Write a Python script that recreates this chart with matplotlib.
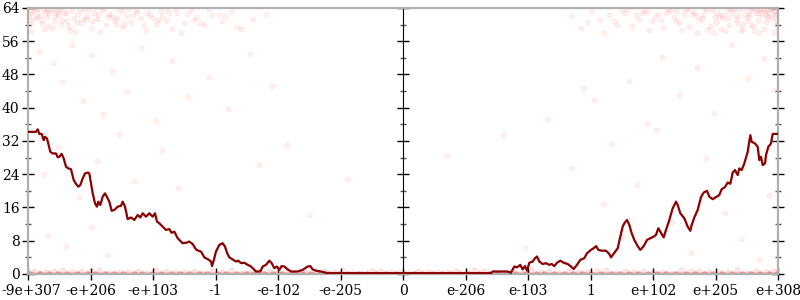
import matplotlib
matplotlib.use('Agg')
import matplotlib.pyplot as plt
import matplotlib.transforms as mtransforms

# x positions are in ordinal units: tick k sits at x = k (-6 .. 6)
tick_pos = [-6, -5, -4, -3, -2, -1, 0, 1, 2, 3, 4, 5, 6]
tick_labels = ['-9e+307', '-e+206', '-e+103', '-1', '-e-102', '-e-205', '0',
               'e-206', 'e-103', '1', 'e+102', 'e+205', 'e+308']

# average error line (bits)
line_x = [-6.0, -5.872, -5.845, -5.819, -5.781, -5.749, -5.728, -5.696, -5.643, -5.605,
          -5.552, -5.525, -5.499, -5.461, -5.429, -5.392, -5.355, -5.312, -5.269, -5.232,
          -5.195, -5.163, -5.125, -5.088, -5.045, -5.019, -4.992, -4.965, -4.928, -4.896,
          -4.875, -4.843, -4.805, -4.768, -4.736, -4.699, -4.661, -4.619, -4.565, -4.512,
          -4.485, -4.448, -4.405, -4.352, -4.299, -4.245, -4.203, -4.165, -4.112, -4.059,
          -4.005, -3.968, -3.936, -3.899, -3.845, -3.792, -3.739, -3.701, -3.659, -3.605,
          -3.525, -3.472, -3.419, -3.365, -3.312, -3.259, -3.232, -3.179, -3.115, -3.072,
          -3.056, -3.029, -2.992, -2.939, -2.885, -2.848, -2.816, -2.779, -2.725, -2.672,
          -2.635, -2.592, -2.539, -2.485, -2.432, -2.352, -2.283, -2.245, -2.192, -2.139,
          -2.101, -2.059, -2.016, -1.979, -1.941, -1.899, -1.845, -1.792, -1.685, -1.605,
          -1.525, -1.483, -1.445, -1.392, -1.312, -1.205, 1.408, 1.435, 1.675, 1.728,
          1.781, 1.824, 1.877, 1.915, 1.952, 1.984, 2.021, 2.075, 2.112, 2.144,
          2.181, 2.235, 2.288, 2.341, 2.379, 2.421, 2.464, 2.517, 2.571, 2.635,
          2.688, 2.731, 2.784, 2.837, 2.901, 2.944, 3.008, 3.051, 3.088, 3.125,
          3.179, 3.248, 3.301, 3.328, 3.381, 3.435, 3.477, 3.515, 3.541, 3.584,
          3.621, 3.659, 3.701, 3.755, 3.797, 3.851, 3.904, 3.957, 4.011, 4.048,
          4.085, 4.117, 4.171, 4.208, 4.261, 4.315, 4.368, 4.395, 4.437, 4.501,
          4.555, 4.597, 4.619, 4.661, 4.715, 4.768, 4.811, 4.864, 4.901, 4.955,
          5.008, 5.061, 5.099, 5.152, 5.195, 5.237, 5.275, 5.312, 5.355, 5.381,
          5.419, 5.461, 5.515, 5.557, 5.579, 5.632, 5.675, 5.701, 5.728, 5.755,
          5.792, 5.808, 5.845, 5.888, 5.915, 6.0]
line_y = [34.2, 34.2, 34.8, 33.7, 33.7, 32.2, 33.0, 32.6, 29.4, 29.0,
          29.0, 28.1, 28.2, 28.9, 27.8, 25.8, 25.4, 25.2, 22.6, 21.7,
          21.0, 21.4, 23.0, 24.2, 24.4, 24.2, 21.8, 19.4, 17.0, 16.2,
          17.4, 16.6, 18.6, 19.4, 18.5, 17.4, 15.2, 15.4, 16.2, 16.4,
          17.4, 16.2, 13.2, 13.6, 13.0, 14.2, 13.6, 14.6, 13.8, 14.6,
          13.8, 14.6, 12.6, 12.2, 11.4, 10.6, 10.8, 9.9, 10.2, 8.6,
          7.4, 7.5, 7.8, 7.2, 5.9, 5.5, 5.4, 4.0, 3.5, 3.0,
          1.9, 3.2, 5.4, 7.0, 7.4, 6.6, 5.1, 4.0, 3.5, 3.0,
          3.2, 2.6, 2.7, 2.2, 1.8, 0.6, 0.6, 1.8, 2.2, 3.2,
          2.6, 1.4, 1.8, 1.0, 1.9, 1.8, 1.1, 0.6, 0.6, 1.0,
          1.8, 1.9, 1.1, 0.8, 0.6, 0.2, 0.2, 0.6, 0.6, 0.3,
          1.8, 1.6, 2.2, 1.1, 1.9, 0.8, 2.7, 3.0, 3.8, 4.2,
          3.0, 2.4, 2.6, 2.2, 2.4, 1.9, 2.7, 3.2, 2.7, 2.4,
          1.8, 1.2, 2.2, 3.4, 3.8, 5.0, 5.8, 6.2, 6.7, 5.8,
          5.6, 5.6, 4.8, 4.0, 5.1, 6.2, 9.0, 11.4, 12.2, 13.0,
          11.8, 9.8, 8.2, 6.7, 5.8, 6.7, 8.2, 8.6, 9.0, 9.4,
          11.0, 10.2, 8.8, 10.6, 13.0, 15.8, 17.4, 16.6, 14.6, 13.4,
          11.4, 10.4, 11.8, 13.6, 15.4, 18.5, 19.6, 20.0, 18.6, 18.0,
          18.5, 19.0, 20.4, 20.9, 22.0, 21.7, 24.4, 25.0, 23.8, 25.4,
          25.0, 26.6, 29.4, 33.4, 31.8, 31.4, 30.6, 27.4, 28.2, 26.2,
          26.6, 28.6, 30.6, 31.4, 33.7, 33.7]

# sampled points: dense cluster near the top, left side
top_left_x = [-5.98, -5.95, -5.9, -5.88, -5.85, -5.8, -5.78, -5.72, -5.7, -5.66,
              -5.6, -5.58, -5.52, -5.5, -5.45, -5.4, -5.36, -5.3, -5.27, -5.2,
              -5.15, -5.1, -5.05, -5.0, -4.95, -4.9, -4.82, -4.75, -4.7, -4.62,
              -4.55, -4.5, -4.42, -4.35, -4.28, -4.2, -4.12, -4.05, -3.95, -3.88,
              -3.8, -3.7, -3.62, -3.5, -3.4, -3.3, -3.18, -3.05, -2.9, -2.75,
              -2.6, -2.4, -2.2, -5.93, -5.75, -5.62, -5.42, -5.22, -5.02, -4.85,
              -4.66, -4.46, -4.25, -4.0, -3.75, -3.55, -3.25, -2.95, -2.65, -5.97,
              -5.83, -5.68, -5.55, -5.33, -5.12, -4.92, -4.72, -4.38, -4.15, -3.85,
              -5.96, -5.86, -5.74, -5.64, -5.47, -5.25, -4.98, -4.58, -3.65, -3.1,
              -5.99, -5.91, -5.79, -5.69, -5.57, -5.48, -5.38, -5.17, -5.07, -4.88,
              -4.78, -4.6, -4.48, -4.32, -4.1, -3.92, -3.78, -3.45, -3.35, -2.85]
top_left_y = [63.6, 62.8, 63.2, 61.5, 63.7, 62.4, 60.3, 63.1, 61.9, 62.7,
              63.4, 60.8, 62.2, 63.5, 61.2, 62.9, 59.6, 63.3, 61.7, 62.5,
              60.4, 63.6, 62.0, 59.1, 62.8, 61.3, 63.2, 60.0, 62.6, 61.0,
              63.4, 59.4, 62.1, 60.7, 63.0, 61.6, 58.6, 62.4, 60.2, 63.3,
              61.1, 59.0, 62.7, 60.5, 63.5, 61.8, 59.8, 62.3, 60.9, 63.1,
              58.9, 61.4, 62.6, 61.0, 63.8, 59.2, 62.9, 60.6, 63.7, 58.3,
              62.0, 60.1, 63.6, 61.5, 62.9, 58.0, 60.3, 62.2, 59.5, 60.2,
              63.9, 59.7, 63.0, 58.7, 61.4, 63.9, 61.9, 63.8, 60.0, 62.1,
              58.5, 62.0, 58.9, 63.9, 60.1, 58.2, 60.9, 61.5, 63.9, 63.7,
              62.1, 63.9, 61.2, 63.5, 62.1, 63.8, 60.9, 63.8, 61.4, 62.2,
              63.9, 60.2, 63.2, 62.4, 62.9, 61.2, 63.7, 62.5, 61.0, 62.0]

# dense cluster near the top, right side
top_right_x = [5.99, 5.96, 5.93, 5.9, 5.86, 5.82, 5.8, 5.75, 5.71, 5.68,
               5.64, 5.6, 5.55, 5.52, 5.47, 5.42, 5.38, 5.33, 5.28, 5.22,
               5.18, 5.12, 5.06, 5.0, 4.94, 4.88, 4.8, 4.74, 4.66, 4.58,
               4.5, 4.42, 4.33, 4.25, 4.16, 4.08, 3.98, 3.9, 3.78, 3.66,
               3.55, 3.42, 3.3, 3.15, 3.0, 2.85, 2.7, 5.97, 5.88, 5.78,
               5.66, 5.57, 5.45, 5.35, 5.25, 5.15, 5.03, 4.91, 4.78, 4.63,
               4.47, 4.3, 4.12, 3.94, 3.72, 3.5, 3.22, 2.95, 5.94, 5.84,
               5.73, 5.62, 5.5, 5.4, 5.3, 5.09, 4.85, 4.55, 4.2, 3.85,
               5.98, 5.91, 5.79, 5.69, 5.59, 5.44, 5.2, 4.97, 4.7, 4.38,
               5.95, 5.89, 5.83, 5.77, 5.7, 5.61, 5.53, 5.36, 5.23, 5.1,
               4.99, 4.83, 4.68, 4.52, 4.36, 4.22, 4.03, 3.82, 3.6, 3.38]
top_right_y = [63.7, 62.5, 63.3, 61.6, 62.9, 63.5, 60.7, 62.2, 63.8, 61.1,
               62.7, 59.6, 63.2, 61.8, 62.4, 60.2, 63.5, 61.3, 62.8, 59.9,
               63.1, 61.5, 62.0, 60.6, 63.4, 58.8, 62.3, 61.0, 63.0, 59.4,
               62.5, 60.4, 61.9, 63.2, 59.1, 62.6, 60.8, 63.0, 61.4, 59.7,
               62.8, 60.0, 62.2, 61.1, 63.3, 59.3, 62.0, 60.9, 63.9, 58.9,
               63.6, 59.9, 63.8, 60.5, 63.7, 58.4, 62.9, 59.6, 61.7, 62.6,
               58.7, 63.5, 61.0, 58.6, 62.4, 63.6, 58.1, 60.7, 58.3, 61.9,
               63.9, 58.4, 60.9, 58.5, 63.9, 58.9, 63.6, 63.7, 62.8, 63.6,
               60.0, 63.9, 63.1, 58.1, 63.9, 59.0, 61.6, 57.9, 58.1, 63.3,
               62.2, 63.8, 62.0, 63.4, 62.9, 63.9, 62.6, 62.1, 63.9, 62.4,
               61.8, 63.9, 62.1, 63.8, 60.9, 63.9, 61.8, 62.9, 63.7, 60.8]

# dense band at zero error
zero_x = [-5.97, -5.81, -5.66, -5.52, -5.37, -5.21, -5.06, -4.93, -4.77, -4.62,
          -4.48, -4.31, -4.17, -4.02, -3.88, -3.71, -3.57, -3.42, -3.27, -3.13,
          -2.98, -2.83, -2.67, -2.52, -2.39, -2.23, -2.08, -1.93, -1.78, -1.62,
          -1.47, -1.33, -1.18, -1.03, -0.88, -0.72, -0.58, -0.43, -0.28, -0.13,
          0.02, 0.17, 0.31, 0.46, 0.62, 0.77, 0.91, 1.06, 1.21, 1.37,
          1.52, 1.66, 1.81, 1.97, 2.12, 2.26, 2.41, 2.57, 2.72, 2.86,
          3.01, 3.16, 3.32, 3.47, 3.61, 3.76, 3.92, 4.07, 4.21, 4.36,
          4.52, 4.67, 4.81, 4.96, 5.11, 5.27, 5.42, 5.56, 5.71, 5.86, 5.99]
low_x = [-5.9, -5.72, -5.44, -5.15, -4.86, -4.55, -4.24, -3.96, -3.64, -3.35,
         -3.06, -2.76, -2.46, -2.15, -1.86, -1.55, -1.25, -0.96, -0.66, -0.35,
         -0.06, 0.24, 0.55, 0.85, 1.14, 1.45, 1.75, 2.04, 2.34, 2.65,
         2.95, 3.25, 3.55, 3.84, 4.15, 4.45, 4.74, 5.05, 5.35, 5.64, 5.93,
         -5.83, -5.58, -5.29, -5.0, -4.7, -4.4, -4.1, -3.8, -3.5, -3.2,
         -2.9, -2.6, -2.3, -2.0, -1.7, -1.4, -1.1, -0.8, -0.5, -0.2,
         0.1, 0.4, 0.7, 1.0, 1.3, 1.6, 1.9, 2.2, 2.5, 2.8,
         3.1, 3.4, 3.7, 4.0, 4.3, 4.6, 4.9, 5.2, 5.5, 5.8]
low_y = [0.8, 0.5, 1.0, 0.6, 0.9, 0.4, 0.7, 1.0, 0.5, 0.8,
         0.6, 0.9, 0.4, 0.7, 1.0, 0.5, 0.8, 0.6, 0.3, 0.7,
         0.5, 0.8, 0.4, 0.6, 0.9, 0.5, 0.7, 1.0, 0.6, 0.8,
         0.4, 0.9, 0.6, 0.8, 0.5, 1.0, 0.7, 0.4, 0.9, 0.6, 0.8,
         0.3, 0.6, 0.4, 0.7, 0.3, 0.5, 0.3, 0.6, 0.4, 0.3,
         0.5, 0.3, 0.6, 0.4, 0.3, 0.5, 0.4, 0.3, 0.6, 0.4,
         0.3, 0.5, 0.4, 0.3, 0.6, 0.4, 0.3, 0.5, 0.3, 0.4,
         0.6, 0.3, 0.5, 0.4, 0.3, 0.6, 0.4, 0.5, 0.3, 0.4]

# sparse points in between
mid_x = [-5.82, -5.6, -5.45, -5.3, -5.12, -4.98, -4.8, -4.65, -4.42, -4.2,
         -3.95, -3.7, -3.44, -3.1, -2.8, -2.45, -2.1, -5.75, -5.52, -5.18,
         -4.9, -4.55, -4.3, -3.85, -5.68, -5.4, -5.0, -4.72, -3.6, -2.3,
         -1.85, -1.5, -0.9, 0.7, 1.6, 2.3, 2.7, 3.05, 3.35, 3.62,
         3.9, 4.15, 4.42, 4.7, 4.98, 5.25, 5.52, 5.78, 5.93, 3.2,
         3.75, 4.3, 4.85, 5.4, 5.85, 2.9, 3.5, 4.05, 4.6, 5.15, 5.7, 1.95]
mid_y = [53.5, 50.8, 46.2, 55.1, 41.5, 52.6, 38.4, 48.9, 44.0, 54.3,
         36.9, 51.2, 42.7, 47.5, 39.8, 53.0, 45.3, 24.0, 30.5, 18.5,
         27.2, 33.6, 22.4, 29.8, 9.5, 6.8, 11.2, 4.5, 20.8, 26.3,
         31.0, 14.2, 22.9, 28.4, 33.5, 37.2, 25.5, 41.8, 31.2, 46.5,
         36.4, 52.3, 43.0, 49.6, 38.7, 55.0, 47.2, 51.9, 44.3, 16.8,
         21.5, 12.6, 27.8, 8.4, 18.9, 44.8, 9.2, 34.6, 5.1, 14.7, 3.3, 6.2]

fig = plt.figure(figsize=(8, 3), dpi=100)
ax = fig.add_axes([0.035, 0.0867, 0.9375, 0.8867])

pt_kw = dict(s=13, c='red', alpha=0.06, linewidths=0.7, edgecolors='red', zorder=2)
ax.scatter(top_left_x, top_left_y, **pt_kw)
ax.scatter(top_right_x, top_right_y, **pt_kw)
ax.scatter(mid_x, mid_y, **pt_kw)
ax.scatter(low_x, low_y, s=13, c='red', alpha=0.1, linewidths=0.7,
           edgecolors='red', zorder=2)
ax.scatter(zero_x, [0] * len(zero_x), s=16, c='red', alpha=0.3,
           linewidths=0.8, edgecolors='red', zorder=2)
ax.axhline(0, color='#e8323a', lw=1.6, zorder=2.5)

ax.plot(line_x, line_y, color='#8b0000', lw=1.6, zorder=3)

ax.set_xlim(-6, 6)
ax.set_ylim(0, 64)
ax.set_xticks(tick_pos)
ax.set_xticklabels(tick_labels)
ax.set_yticks(range(0, 65, 8))
ax.set_yticks(range(4, 64, 8), minor=True)

for s in ax.spines.values():
    s.set_color('#b0b0b0')
    s.set_linewidth(1.6)

ax.tick_params(axis='y', which='major', direction='inout', length=8, width=1,
               color='black', left=True, right=True, labelsize=10, pad=2)
ax.tick_params(axis='y', which='minor', direction='inout', length=4, width=1,
               color='#555555', left=True, right=True)
ax.tick_params(axis='x', which='major', direction='inout', length=9, width=1,
               color='black', labelsize=10, pad=3)

# center axis at zero
cen = ax.secondary_yaxis(0.5)
cen.set_yticks(range(0, 65, 8))
cen.set_yticks(range(4, 64, 8), minor=True)
cen.spines['left'].set_color('#b0b0b0')
cen.spines['left'].set_linewidth(1.6)
cen.tick_params(which='major', direction='inout', length=8, width=1,
                color='black', labelleft=False, labelright=False)
cen.tick_params(which='minor', direction='inout', length=4, width=1,
                color='#555555')

for lab in ax.get_xticklabels() + ax.get_yticklabels():
    lab.set_family('DejaVu Serif')
# nudge the first label so it stays inside the figure
first = ax.get_xticklabels()[0]
first.set_transform(first.get_transform() +
                    mtransforms.ScaledTranslation(2 / 72, 0, fig.dpi_scale_trans))

plt.savefig('out.png', dpi=100)
